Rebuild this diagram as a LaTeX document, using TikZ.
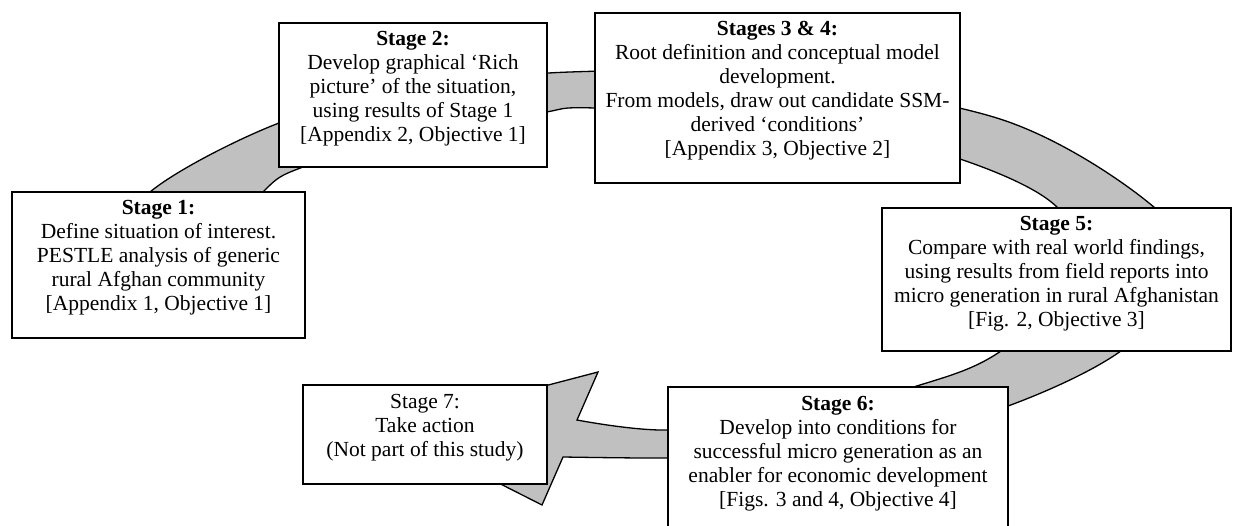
\documentclass[tikz,border=0pt]{standalone}
\usepackage{fontspec}
\setmainfont{Liberation Serif}
\definecolor{bandgray}{HTML}{C0C0C0}
\newcommand\stagetext[3]{\parbox[c][#2][t]{#1}{\centering\fontsize{21.5}{24}\selectfont\rule{0pt}{23pt}#3}}
\begin{document}
\begin{tikzpicture}[x=1pt,y=-1pt,
  stagebox/.style={draw=black, line width=2.6pt, fill=white, inner sep=0pt, outer sep=0pt},
  band/.style={fill=bandgray, draw=black, line width=1.3pt, line join=miter}]
\useasboundingbox (0,0) rectangle (1233,526);
\clip (0,0) rectangle (1233,526);
% cycle band with arrowhead
\filldraw[band]
  plot[smooth, tension=0.55] coordinates {(112,262) (150,192) (279,123) (420,88) (570,72) (760,76) (1003,120) (1155,208) (1190,280) (1118,353) (1008,406) (880,440) (760,455) (668,458) (563,457)}
  -- (542,505) -- (388,427) -- (598,372) -- (577,420)
  -- plot[smooth, tension=0.55] coordinates {(577,420) (668,430) (800,414) (920,385) (998,353) (1080,280) (1058,208) (960,159) (800,120) (595,108) (540,113) (420,133) (303,167) (263,192) (208,262)}
  -- cycle;
% stage boxes
\node[stagebox] (s1) at (158.5,265) {\stagetext{293pt}{146pt}{\textbf{Stage 1:}\\Define situation of interest.\\PESTLE analysis of generic\\rural Afghan community\\{[}Appendix 1, Objective 1]}};
\node[stagebox] (s2) at (413,95) {\stagetext{268pt}{144pt}{\textbf{Stage 2:}\\Develop graphical ‘Rich\\picture’ of the situation,\\using results of Stage 1\\{[}Appendix 2, Objective 1]}};
\node[stagebox] (s34) at (777.5,98) {\stagetext{365pt}{170pt}{\textbf{Stages 3 \& 4:}\\Root definition and conceptual model\\development.\\From models, draw out candidate SSM-\\derived ‘conditions’\\{[}Appendix 3, Objective 2]}};
\node[stagebox] (s5) at (1056.5,279.5) {\stagetext{349pt}{143pt}{\textbf{Stage 5:}\\Compare with real world findings,\\using results from field reports into\\micro generation in rural Afghanistan\\{[}Fig. 2, Objective 3]}};
\node[stagebox] (s6) at (838,462) {\stagetext{340pt}{150pt}{\textbf{Stage 6:}\\Develop into conditions for\\successful micro generation as an\\enabler for economic development\\{[}Figs. 3 and 4, Objective 4]}};
\node[stagebox] (s7) at (425,434.5) {\stagetext{244pt}{99pt}{Stage 7:\\Take action\\(Not part of this study)}};
\end{tikzpicture}
\end{document}
